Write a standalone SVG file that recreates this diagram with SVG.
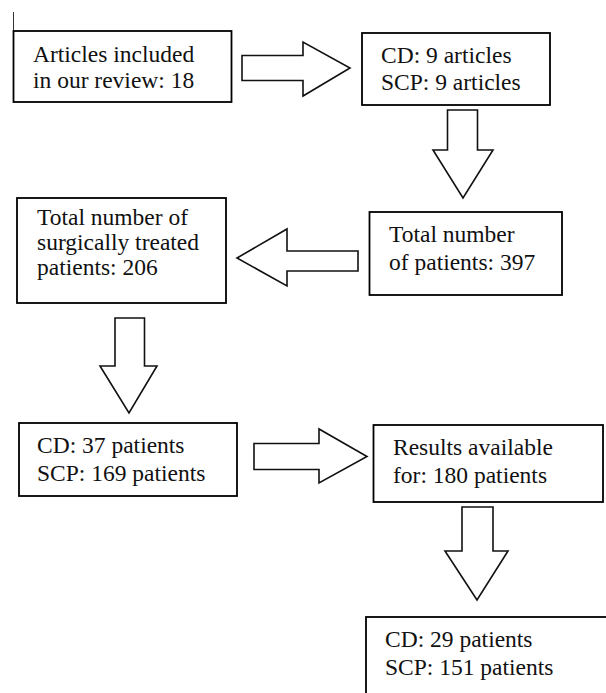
<svg xmlns="http://www.w3.org/2000/svg" width="606" height="693" viewBox="0 0 606 693">
<style>
.box{fill:#fff;stroke:#000;stroke-width:1.8}
.arr{fill:#fff;stroke:#111;stroke-width:1.6;stroke-linejoin:miter}
text{font-family:'Liberation Serif','Times New Roman',Times,serif;font-size:23.5px;fill:#111}
</style>
<rect width="606" height="693" fill="#fff"/>
<line x1="13.5" y1="12" x2="13.5" y2="31" stroke="#333" stroke-width="1"/>
<g id="connectors">
<polygon class="arr" points="242,55.5 303,55.5 303,42 350,68 303,96 303,80.5 242,80.5"/>
<polygon class="arr" points="447.5,110 477.5,110 477.5,150 493,150 463,198 433,150 447.5,150"/>
<polygon class="arr" points="358,251 287,251 287,229 237,258 287,286 287,271 358,271"/>
<polygon class="arr" points="115,318 144.5,318 144.5,366 157,366 129,413 100,366 115,366"/>
<polygon class="arr" points="254,443.5 319,443.5 319,429 367,456.5 319,483 319,469.5 254,469.5"/>
<polygon class="arr" points="462,507 493,507 493,551 508,551 477,600 445,551 462,551"/>
</g>
<g id="n1">
<rect class="box" x="13.5" y="31" width="218" height="71"/>
<text font-family="Liberation Serif, serif" x="33" y="62">Articles included</text>
<text font-family="Liberation Serif, serif" x="33" y="88">in our review: 18</text>
</g>
<g id="n2">
<rect class="box" x="362" y="33" width="188" height="72"/>
<text font-family="Liberation Serif, serif" x="381" y="63">CD: 9 articles</text>
<text font-family="Liberation Serif, serif" x="381" y="90">SCP: 9 articles</text>
</g>
<g id="n3">
<rect class="box" x="369.5" y="212" width="192.5" height="83"/>
<text font-family="Liberation Serif, serif" x="389" y="242">Total number</text>
<text font-family="Liberation Serif, serif" x="389" y="270">of patients: 397</text>
</g>
<g id="n4">
<rect class="box" x="17" y="198" width="209" height="105"/>
<text font-family="Liberation Serif, serif" x="37" y="225">Total number of</text>
<text font-family="Liberation Serif, serif" x="37" y="250">surgically treated</text>
<text font-family="Liberation Serif, serif" x="37" y="275">patients: 206</text>
</g>
<g id="n5">
<rect class="box" x="19" y="423" width="218" height="73"/>
<text font-family="Liberation Serif, serif" x="37" y="453">CD: 37 patients</text>
<text font-family="Liberation Serif, serif" x="37" y="481">SCP: 169 patients</text>
</g>
<g id="n6">
<rect class="box" x="373.5" y="425" width="229.5" height="77"/>
<text font-family="Liberation Serif, serif" x="393" y="455">Results available</text>
<text font-family="Liberation Serif, serif" x="393" y="483">for: 180 patients</text>
</g>
<g id="n7">
<rect class="box" x="366" y="617" width="260" height="100"/>
<text font-family="Liberation Serif, serif" x="385" y="647">CD: 29 patients</text>
<text font-family="Liberation Serif, serif" x="385" y="675">SCP: 151 patients</text>
</g>
</svg>
